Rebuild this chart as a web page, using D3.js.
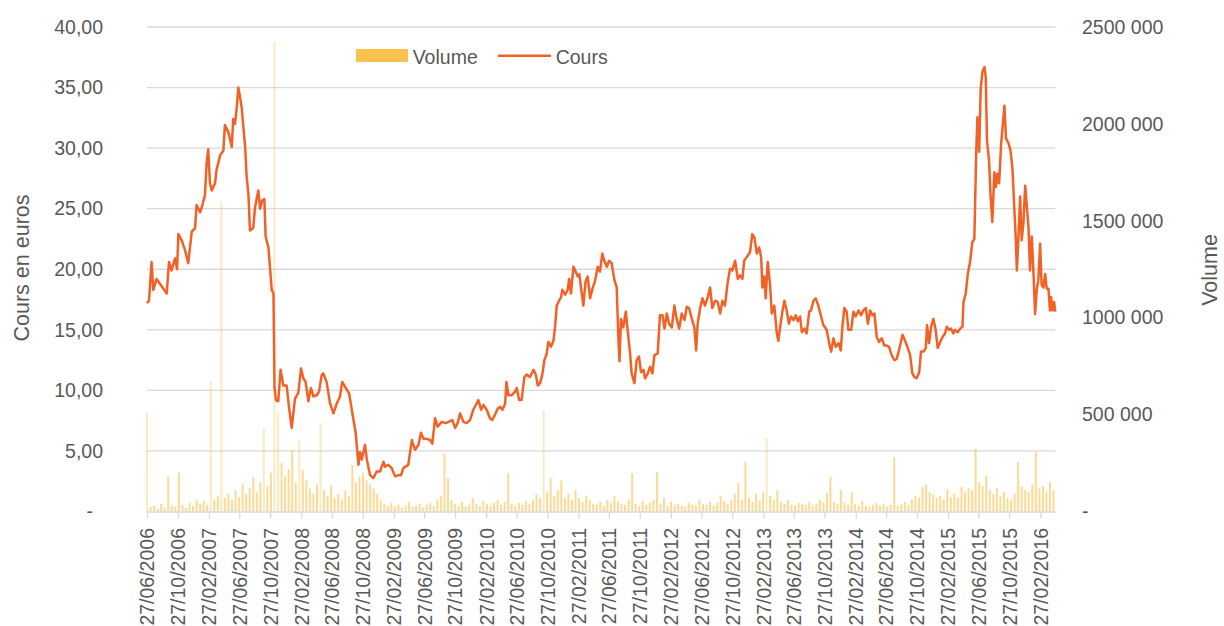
<!DOCTYPE html>
<html>
<head>
<meta charset="utf-8">
<script src="https://cdnjs.cloudflare.com/ajax/libs/d3/7.8.5/d3.min.js"></script>
<style>
  body { margin: 0; background: #fff; }
  text { font-family: "Liberation Sans", Arial, sans-serif; fill: #595959; }
</style>
</head>
<body>
<script>
// graduations de l'axe des dates (tous les 4 mois)
var tickLabels = ["27/06/2006", "27/10/2006", "27/02/2007", "27/06/2007", "27/10/2007",
  "27/02/2008", "27/06/2008", "27/10/2008", "27/02/2009", "27/06/2009", "27/10/2009",
  "27/02/2010", "27/06/2010", "27/10/2010", "27/02/2011", "27/06/2011", "27/10/2011",
  "27/02/2012", "27/06/2012", "27/10/2012", "27/02/2013", "27/06/2013", "27/10/2013",
  "27/02/2014", "27/06/2014", "27/10/2014", "27/02/2015", "27/06/2015", "27/10/2015",
  "27/02/2016"];

var coursTicks = [0, 5, 10, 15, 20, 25, 30, 35, 40];
var volumeTicks = [0, 500, 1000, 1500, 2000, 2500]; // milliers

var premierJour = "27/06/2006";
var dernierJour = 3591; // jours depuis le premier jour

// cours : jours depuis le 27/06/2006 et valeur en euros
var coursJours = [0, 8, 18, 25, 38, 58, 78, 87, 97, 111, 119, 124, 137, 150, 163, 177, 190, 196, 210, 219,
  229, 236, 242, 249, 256, 269, 275, 289, 302, 308, 322, 335, 341, 348, 355, 361, 368, 374, 388, 394,
  401, 407, 420, 427, 440, 447, 456, 464, 469, 480, 486, 493, 500, 504, 510, 519, 528, 539, 552, 561,
  572, 585, 598, 609, 618, 627, 638, 648, 658, 671, 680, 691, 697, 710, 724, 737, 750, 763, 772, 783,
  799, 812, 825, 836, 842, 849, 862, 869, 882, 895, 908, 921, 935, 941, 954, 967, 981, 994, 1004, 1014,
  1033, 1047, 1060, 1073, 1083, 1093, 1106, 1119, 1128, 1139, 1149, 1165, 1181, 1207, 1218, 1228, 1238, 1251, 1264, 1277,
  1290, 1303, 1310, 1321, 1330, 1343, 1356, 1365, 1376, 1387, 1396, 1405, 1416, 1421, 1429, 1442, 1455, 1462, 1471, 1481,
  1492, 1501, 1514, 1528, 1537, 1545, 1554, 1563, 1571, 1580, 1587, 1597, 1607, 1613, 1620, 1629, 1637, 1642, 1653, 1663,
  1669, 1676, 1686, 1695, 1703, 1709, 1719, 1725, 1734, 1742, 1752, 1761, 1771, 1782, 1791, 1800, 1808, 1818, 1827, 1837,
  1848, 1857, 1864, 1868, 1874, 1883, 1893, 1901, 1910, 1916, 1927, 1936, 1945, 1953, 1963, 1969, 1980, 1989, 1998, 2006,
  2019, 2028, 2038, 2046, 2055, 2064, 2075, 2085, 2094, 2104, 2114, 2125, 2134, 2143, 2154, 2164, 2171, 2177, 2187, 2196,
  2206, 2217, 2226, 2235, 2246, 2256, 2266, 2275, 2285, 2295, 2305, 2314, 2325, 2336, 2345, 2354, 2361, 2371, 2384, 2393,
  2401, 2411, 2420, 2428, 2433, 2441, 2446, 2454, 2463, 2470, 2480, 2490, 2496, 2503, 2512, 2520, 2529, 2538, 2546, 2556,
  2565, 2573, 2582, 2589, 2599, 2608, 2618, 2625, 2635, 2644, 2654, 2665, 2674, 2687, 2697, 2705, 2714, 2723, 2734, 2743,
  2749, 2757, 2766, 2773, 2784, 2793, 2802, 2813, 2823, 2832, 2842, 2850, 2859, 2868, 2876, 2885, 2894, 2905, 2915, 2925,
  2934, 2944, 2955, 2964, 2973, 2987, 2997, 3008, 3017, 3026, 3034, 3043, 3053, 3060, 3070, 3079, 3084, 3092, 3100, 3109,
  3118, 3126, 3136, 3145, 3155, 3162, 3171, 3179, 3188, 3195, 3205, 3215, 3224, 3228, 3237, 3245, 3254, 3263, 3271, 3278,
  3283, 3290, 3296, 3303, 3311, 3316, 3321, 3329, 3335, 3342, 3350, 3356, 3362, 3369, 3377, 3385, 3390, 3396, 3406, 3414,
  3422, 3429, 3435, 3439, 3445, 3452, 3458, 3465, 3472, 3478, 3485, 3491, 3498, 3505, 3511, 3518, 3524, 3531, 3537, 3544,
  3551, 3557, 3564, 3570, 3574, 3580, 3586, 3591];

var coursValeurs = [17.2, 17.4, 20.6, 18.3, 19.2, 18.6, 18.0, 20.6, 19.9, 20.9, 20.0, 22.9, 22.4, 21.6, 20.5, 23.1, 23.4, 25.3, 24.7, 25.3,
  26.1, 28.8, 29.9, 27.1, 26.5, 27.1, 28.2, 29.4, 29.8, 31.9, 31.3, 30.1, 32.4, 32.0, 33.4, 35.0, 34.2, 33.4, 30.1, 27.6,
  26.2, 23.2, 23.4, 25.1, 26.5, 25.0, 25.7, 25.8, 22.7, 21.8, 20.2, 18.3, 18.0, 10.3, 9.2, 9.1, 11.7, 10.4, 10.4, 8.7,
  6.9, 9.3, 9.8, 11.8, 11.0, 10.7, 9.1, 10.2, 9.5, 9.6, 9.9, 11.3, 11.4, 10.7, 8.9, 8.1, 8.9, 9.5, 10.7, 10.3,
  9.75, 8.1, 6.5, 3.85, 4.9, 4.3, 5.5, 4.3, 3.0, 2.75, 3.3, 3.3, 4.1, 3.7, 3.85, 3.6, 2.9, 3.0, 3.0, 3.6,
  3.85, 5.9, 5.1, 5.5, 6.5, 6.0, 6.0, 5.9, 5.6, 7.7, 7.0, 7.4, 7.3, 7.55, 6.9, 7.3, 8.1, 7.4, 7.3, 7.55,
  8.4, 8.9, 9.2, 8.4, 8.8, 8.4, 7.7, 7.55, 8.0, 8.5, 8.65, 8.4, 8.9, 10.7, 9.6, 9.6, 9.9, 10.2, 9.2, 9.2,
  11.1, 11.3, 11.1, 11.7, 11.3, 10.4, 10.6, 11.3, 12.5, 13.0, 14.0, 13.6, 14.1, 15.2, 17.0, 17.4, 17.7, 18.3, 17.9, 18.3,
  19.2, 18.0, 20.2, 19.8, 19.4, 19.6, 18.0, 17.0, 19.0, 19.4, 17.6, 18.4, 19.0, 20.2, 19.8, 21.3, 20.7, 20.2, 20.7, 20.5,
  19.1, 18.5, 14.1, 12.4, 15.9, 15.2, 16.5, 14.8, 13.05, 11.4, 10.6, 12.5, 12.8, 11.5, 11.7, 11.0, 11.4, 11.95, 11.4, 12.9,
  13.05, 16.2, 16.2, 15.1, 16.35, 15.5, 15.2, 17.0, 15.9, 15.1, 16.35, 15.8, 16.9, 16.8, 15.9, 15.2, 13.3, 15.5, 16.8, 17.6,
  17.0, 17.7, 18.5, 16.8, 17.4, 17.3, 16.35, 17.4, 17.0, 18.8, 20.05, 19.9, 20.7, 19.2, 19.5, 19.2, 20.7, 21.0, 21.4, 22.9,
  22.65, 21.3, 21.8, 21.0, 18.5, 19.4, 17.6, 20.6, 18.8, 16.35, 17.0, 14.7, 14.1, 15.2, 16.5, 17.4, 16.6, 15.5, 16.1, 15.8,
  16.2, 15.7, 16.1, 14.8, 15.1, 14.7, 16.5, 16.6, 17.4, 17.6, 17.0, 16.1, 15.4, 15.0, 13.9, 13.2, 14.3, 13.6, 13.9, 13.3,
  15.2, 16.8, 16.5, 15.0, 15.0, 16.5, 16.1, 16.6, 16.2, 16.6, 16.8, 15.5, 16.6, 16.2, 16.35, 14.4, 14.0, 14.3, 13.7, 13.7,
  13.6, 12.9, 12.5, 12.6, 13.3, 14.6, 14.1, 13.5, 12.9, 11.4, 11.1, 11.0, 11.5, 13.2, 13.2, 13.5, 15.4, 13.9, 15.25, 15.9,
  15.0, 13.5, 14.0, 14.4, 14.7, 15.25, 15.0, 15.1, 14.7, 15.0, 14.8, 15.1, 15.25, 17.3, 18.0, 19.6, 20.6, 22.25, 22.5, 29.4,
  32.55, 29.7, 34.9, 36.3, 36.7, 35.85, 30.6, 29.0, 26.1, 23.9, 28.0, 26.8, 27.9, 27.1, 30.4, 32.3, 33.5, 30.8, 30.4, 29.8,
  28.2, 25.0, 22.4, 19.9, 22.5, 26.0, 22.4, 23.8, 26.9, 25.3, 23.5, 19.9, 22.7, 19.6, 16.3, 18.4, 19.1, 22.1, 18.7, 18.5,
  19.6, 18.4, 18.4, 16.6, 17.7, 16.6, 17.3, 16.5];

// volume : une barre tous les 14 jours, en milliers de titres
var volumePas = 14;
var volumeMilliers = [508, 25, 30, 15, 40, 20, 180, 30, 25, 200, 35, 20, 45, 30, 60, 40, 55, 35, 669, 60,
  80, 1597, 70, 90, 60, 110, 75, 140, 90, 120, 180, 100, 150, 430, 130, 200, 2422, 507, 250, 180,
  220, 317, 150, 370, 214, 160, 120, 90, 140, 456, 110, 80, 136, 70, 90, 60, 110, 80, 240, 150,
  180, 200, 160, 140, 120, 90, 60, 40, 30, 45, 25, 35, 20, 30, 50, 25, 30, 40, 20, 35,
  45, 30, 60, 80, 300, 172, 60, 40, 30, 50, 25, 35, 70, 40, 30, 55, 40, 30, 45, 60,
  35, 50, 198, 40, 30, 45, 35, 55, 40, 60, 90, 70, 523, 100, 172, 80, 110, 160, 70, 90,
  60, 110, 70, 50, 80, 60, 40, 35, 50, 30, 60, 45, 80, 50, 40, 35, 60, 198, 40, 30,
  55, 35, 45, 60, 204, 40, 70, 30, 50, 35, 40, 30, 25, 45, 35, 30, 60, 40, 35, 50,
  30, 45, 80, 55, 40, 60, 90, 147, 60, 257, 70, 50, 90, 60, 100, 379, 80, 60, 110, 50,
  40, 60, 35, 30, 45, 40, 35, 50, 30, 40, 60, 45, 95, 180, 50, 40, 110, 45, 35, 100,
  40, 30, 55, 30, 25, 35, 45, 30, 40, 25, 35, 281, 30, 40, 50, 35, 60, 80, 70, 128,
  140, 100, 90, 70, 80, 60, 115, 75, 90, 70, 128, 100, 120, 110, 322, 150, 130, 183, 110, 90,
  120, 80, 100, 70, 60, 90, 255, 130, 110, 100, 140, 308, 120, 130, 100, 154, 110];

var orange = "#F26125";
var jaune = "#FAC14E";
var grille = "#D9D9D9";

var W = 1224, H = 626;
var plotLeft = 147, plotRight = 1055.3, plotTop = 27, plotBottom = 511.5;

var parseDate = d3.timeParse("%d/%m/%Y");
var debut = parseDate(premierJour);

var cours = coursJours.map(function(j, i) {
  return { date: d3.timeDay.offset(debut, j), v: coursValeurs[i] };
});
var volumes = volumeMilliers.map(function(v, i) {
  return { date: d3.timeDay.offset(debut, i * volumePas), v: v };
});

var svg = d3.select("body")
  .append("svg")
  .attr("width", W)
  .attr("height", H);

// scales
var x = d3.scaleTime()
  .domain([debut, d3.timeDay.offset(debut, dernierJour)])
  .range([plotLeft, plotRight]);
var yCours = d3.scaleLinear().domain([0, 40]).range([plotBottom, plotTop]);
var yVolume = d3.scaleLinear().domain([0, 2500]).range([plotBottom, plotTop]);

// horizontal gridlines
svg.append("g")
  .selectAll("line")
  .data(coursTicks.filter(function(d) { return d > 0; }))
  .enter().append("line")
  .attr("x1", plotLeft)
  .attr("x2", plotRight)
  .attr("y1", function(d) { return yCours(d); })
  .attr("y2", function(d) { return yCours(d); })
  .attr("stroke", grille)
  .attr("stroke-width", 1.3);

// volume bars
svg.append("g")
  .selectAll("rect")
  .data(volumes)
  .enter().append("rect")
  .attr("x", function(d) { return x(d.date) - 1; })
  .attr("y", function(d) { return yVolume(d.v); })
  .attr("width", 2)
  .attr("height", function(d) { return plotBottom - yVolume(d.v); })
  .attr("fill", jaune)
  .attr("fill-opacity", function(d) { return d.v > 350 ? 0.35 : 0.6; });

// price line
var line = d3.line()
  .x(function(d) { return x(d.date); })
  .y(function(d) { return yCours(d.v); });

svg.append("path")
  .datum(cours)
  .attr("d", line)
  .attr("fill", "none")
  .attr("stroke", orange)
  .attr("stroke-width", 2.5)
  .attr("stroke-linejoin", "round");

// x axis
var xAxis = svg.append("g")
  .attr("transform", "translate(0," + plotBottom + ")")
  .call(d3.axisBottom(x)
    .tickValues(tickLabels.map(parseDate))
    .tickSize(7)
    .tickSizeOuter(0)
    .tickFormat(d3.timeFormat("%d/%m/%Y")));

xAxis.selectAll(".domain, .tick line")
  .attr("stroke", grille)
  .attr("stroke-width", 1.3);

xAxis.selectAll("text")
  .attr("transform", "rotate(-90)")
  .attr("text-anchor", "end")
  .attr("x", -16.5)
  .attr("y", 0)
  .attr("dy", "0.35em")
  .style("font-size", "19.5px");

// left axis
var yLeft = svg.append("g")
  .attr("transform", "translate(103,0)")
  .call(d3.axisLeft(yCours)
    .tickValues(coursTicks)
    .tickSize(0)
    .tickPadding(0)
    .tickFormat(function(d) { return d === 0 ? "-" : d3.format(".2f")(d).replace(".", ","); }));

yLeft.select(".domain").remove();
yLeft.selectAll("text").style("font-size", "19.5px");
yLeft.selectAll("text").filter(function(d) { return d === 0; }).attr("x", -10);

// right axis
var yRight = svg.append("g")
  .attr("transform", "translate(1082,0)")
  .call(d3.axisRight(yVolume)
    .tickValues(volumeTicks)
    .tickSize(0)
    .tickPadding(0)
    .tickFormat(function(d) { return d === 0 ? "-" : d + " 000"; }));

yRight.select(".domain").remove();
yRight.selectAll("text").style("font-size", "19.5px");

// axis titles
svg.append("text")
  .attr("transform", "translate(28.5,268) rotate(-90)")
  .attr("text-anchor", "middle")
  .style("font-size", "21.5px")
  .text("Cours en euros");

svg.append("text")
  .attr("transform", "translate(1216.5,270) rotate(-90)")
  .attr("text-anchor", "middle")
  .style("font-size", "21.5px")
  .text("Volume");

// legend
var legend = svg.append("g");

legend.append("rect")
  .attr("x", 356)
  .attr("y", 49)
  .attr("width", 52)
  .attr("height", 13)
  .attr("fill", jaune);

legend.append("text")
  .attr("x", 412.7)
  .attr("y", 63.5)
  .style("font-size", "19.5px")
  .text("Volume");

legend.append("line")
  .attr("x1", 498)
  .attr("x2", 551)
  .attr("y1", 55.7)
  .attr("y2", 55.7)
  .attr("stroke", orange)
  .attr("stroke-width", 2.5);

legend.append("text")
  .attr("x", 555.7)
  .attr("y", 63.5)
  .style("font-size", "19.5px")
  .text("Cours");
</script>
</body>
</html>
